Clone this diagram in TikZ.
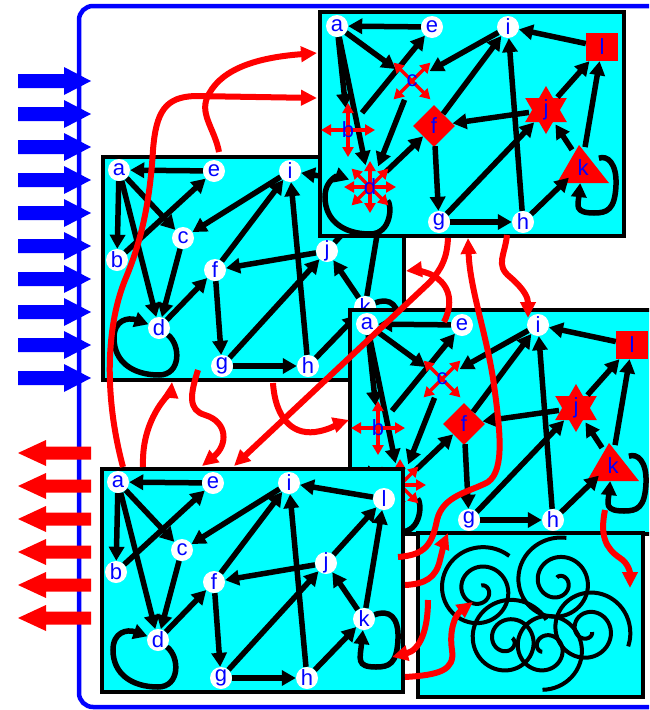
\documentclass[tikz,border=0pt]{standalone}
\usepackage{fontspec}
\setmainfont{Liberation Sans}
\usetikzlibrary{arrows.meta,shapes.geometric}
\definecolor{aqua}{RGB}{0,255,255}
\definecolor{pure red}{RGB}{255,0,0}
\definecolor{pure blue}{RGB}{0,0,255}

\tikzset{
  panelbox/.style={draw=black, fill=aqua, line width=4.5pt},
  gedge/.style={draw=black, line width=5.5pt, -{Triangle[length=14pt,width=15pt]}},
  vx/.style={circle, fill=white, inner sep=0pt, minimum size=22pt, text=pure blue, font=\fontsize{22}{22}\selectfont},
  ghost/.style={circle, inner sep=0pt},
  lbl/.style={inner sep=0pt, text=pure blue, font=\fontsize{22}{22}\selectfont},
  deco/.style={draw=pure red, line width=3.5pt, -{Triangle[length=10pt,width=11pt]}},
  link/.style={draw=pure red, line width=6pt, -{Triangle[length=16pt,width=15pt]}},
  spiral/.style={draw=black, line width=4pt},
}

\newcommand\dloopfor[1]{\draw[gedge] (#1d) .. controls (22,17) and (22,47) .. (0,47) .. controls (-26,47) and (-45,34) .. (-45,10) .. controls (-45,-8) and (-31,-11) .. (#1d);}
\newcommand\kloopfor[1]{\draw[gedge] (#1k) .. controls (25,-10) and (35,-2) .. (34,20) .. controls (33,45) and (25,48) .. (12,48) .. controls (-8,48) and (-4,40) .. (#1k);}

\newcommand\plainpanel[3]{%
\begin{scope}[shift={(#2,#3)}]
  \draw[panelbox] (0,0) rectangle (301,223);
  \foreach \nm/\px/\py in {a/16/13,e/111/14,i/187/14,l/282/30,c/80/81,b/14/103,f/112/113,j/224/94,d/56/171,k/262/150,g/119/209,h/205/209}
    {\node[vx] (#1\nm) at (\px,\py) {\nm};}
  \foreach \src/\dst in {e/a,a/b,a/d,a/c,b/e,c/d,i/c,f/i,d/f,j/f,f/g,g/j,g/h,h/i,h/k,k/j,k/l,j/l,l/i}
    {\draw[gedge] (#1\src) -- (#1\dst);}
  \begin{scope}[shift={(56,171)}]\dloopfor{#1}\end{scope}
  \begin{scope}[shift={(262,150)}]\kloopfor{#1}\end{scope}
\end{scope}}

\newcommand\fancypanel[3]{%
\begin{scope}[shift={(#2,#3)}]
  \draw[panelbox] (0,0) rectangle (304,224);
  \foreach \nm/\px/\py in {a/17/14,e/112/15,i/188/15,g/119/210,h/203/210}
    {\node[vx] (#1\nm) at (\px,\py) {\nm};}
  \node[lbl, fill=pure red, minimum width=32pt, minimum height=28pt] (#1l) at (282,35) {l};
  \node[lbl, diamond, fill=pure red, minimum size=42pt] (#1f) at (114,114) {f};
  \fill[pure red] (226,74) -- (205.2,110) -- (246.8,110) -- cycle;
  \fill[pure red] (226,122) -- (205.2,86) -- (246.8,86) -- cycle;
  \node[ghost, minimum size=34pt] (#1j) at (226,98) {};
  \fill[pure red] (259,133) -- (237,171) -- (289,171) -- cycle;
  \node[ghost, minimum size=36pt] (#1k) at (262,153) {};
  \node[ghost, minimum size=40pt] (#1c) at (92,69) {};
  \node[ghost, minimum size=44pt] (#1b) at (28,118) {};
  \node[ghost, minimum size=44pt] (#1d) at (50,175) {};
  \foreach \src/\dst in {e/a,a/b,a/d,a/c,b/e,c/d,i/c,f/i,d/f,j/f,f/g,g/j,g/h,h/i,h/k,k/j,k/l,j/l,l/i}
    {\draw[gedge] (#1\src) -- (#1\dst);}
  \begin{scope}[shift={(50,175)}]\dloopfor{#1}\end{scope}
  \begin{scope}[shift={(262,153)}]\kloopfor{#1}\end{scope}
  \foreach \ang in {45,135,225,315} {\draw[deco] (#1c.center) -- ++(\ang:26);}
  \foreach \ang in {0,90,180,270} {\draw[deco] (#1b.center) -- ++(\ang:27);}
  \foreach \ang in {0,45,...,315} {\draw[deco] (#1d.center) -- ++(\ang:26);}
  \node[lbl] (#1ct) at (#1c) {c};
  \node[lbl] (#1bt) at (#1b) {b};
  \node[lbl] (#1dt) at (#1d) {d};
  \node[lbl] (#1jt) at (#1j) {j};
  \node[lbl] (#1kt) at (263,156) {k};
\end{scope}}

\begin{document}
\begin{tikzpicture}[x=1pt,y=-1pt]
\useasboundingbox (0,0) rectangle (649,710);
\clip (0,0) rectangle (649,710);
\fill[white] (0,0) rectangle (649,710);

% outer frame
\draw[pure blue, line width=4.5pt, rounded corners=14pt] (720,707) -- (79,707) -- (79,6) -- (720,6);

% inputs and outputs
\foreach \yy in {81,114,...,378}
  {\fill[pure blue] (18,\yy-7) -- (64,\yy-7) -- (64,\yy-14) -- (91,\yy) -- (64,\yy+14) -- (64,\yy+7) -- (18,\yy+7) -- cycle;}
\foreach \yy in {453,486,...,618}
  {\fill[pure red] (91,\yy-6.5) -- (46,\yy-6.5) -- (46,\yy-13) -- (18,\yy) -- (46,\yy+13) -- (46,\yy+6.5) -- (91,\yy+6.5) -- cycle;}

% panels
\plainpanel{B}{103}{157}
\fancypanel{A}{320}{12}
\fancypanel{C}{350}{310}
\plainpanel{D}{102}{469}

% spiral panel
\draw[panelbox] (418,533) rectangle (643,697);
\begin{scope}
\clip (420,535) rectangle (641,695);
\draw[spiral] plot[domain=1.5:14.5, samples=120, smooth, variable=\t] ({480+3.1*\t*cos(deg(\t)+200)}, {590+3.1*\t*sin(deg(\t)+200)});
\draw[spiral] plot[domain=1.5:14.5, samples=120, smooth, variable=\t] ({558+3.1*\t*cos(deg(\t)+170)}, {582+3.1*\t*sin(deg(\t)+170)});
\draw[spiral] plot[domain=1.5:14, samples=120, smooth, variable=\t] ({508+3.1*\t*cos(deg(\t)+250)}, {640+3.1*\t*sin(deg(\t)+250)});
\draw[spiral] plot[domain=1.5:14, samples=120, smooth, variable=\t] ({588+3.1*\t*cos(deg(\t)+300)}, {630+3.1*\t*sin(deg(\t)+300)});
\draw[spiral] plot[domain=1.5:13.5, samples=120, smooth, variable=\t] ({545+3.1*\t*cos(deg(\t)+40)}, {648+3.1*\t*sin(deg(\t)+40)});
\end{scope}

% red links between panels
\coordinate (l1s) at (219,152); \coordinate (l1e) at (317,53);
\coordinate (l2s) at (123,467); \coordinate (l2e) at (317,98);
\coordinate (l3s) at (143,467); \coordinate (l3e) at (172,382);
\coordinate (l4s) at (198,370); \coordinate (l4e) at (202,466);
\coordinate (l5s) at (273,383); \coordinate (l5e) at (349,420);
\coordinate (l6s) at (448,238); \coordinate (l6e) at (234,466);
\coordinate (l7s) at (444,322); \coordinate (l7e) at (406,271);
\coordinate (l8s) at (398,557); \coordinate (l8e) at (468,238);
\coordinate (l9s) at (507,235); \coordinate (l9e) at (528,318);
\coordinate (l10s) at (405,585); \coordinate (l10e) at (448,533);
\coordinate (l11s) at (428,600); \coordinate (l11e) at (392,657);
\coordinate (l12s) at (405,677); \coordinate (l12e) at (473,602);
\coordinate (l13s) at (605,510); \coordinate (l13e) at (630,588);

\draw[link] (l1s) .. controls (215,130) and (200,115) .. (207,98) .. controls (218,72) and (250,58) .. (l1e);
\draw[link] (l2s) .. controls (105,400) and (105,330) .. (125,280) .. controls (142,240) and (150,200) .. (153,150) .. controls (156,112) and (165,97) .. (195,96) -- (l2e);
\draw[link] (l3s) .. controls (142,440) and (150,420) .. (160,405) .. controls (167,395) and (171,392) .. (l3e);
\draw[link] (l4s) .. controls (190,395) and (188,410) .. (205,415) .. controls (228,422) and (228,445) .. (l4e);
\draw[link] (l5s) .. controls (275,415) and (290,435) .. (315,432) .. controls (330,430) and (340,423) .. (l5e);
\draw[link] (l6s) .. controls (447,258) and (442,268) .. (430,282) -- (l6e);
\draw[link] (l7s) .. controls (455,300) and (448,282) .. (430,274) .. controls (422,271) and (415,270) .. (l7e);
\draw[link] (l8s) .. controls (425,555) and (432,545) .. (437,520) .. controls (443,495) and (470,492) .. (488,482) .. controls (505,470) and (500,430) .. (494,385) .. controls (487,335) and (470,290) .. (l8e);
\draw[link] (l9s) .. controls (505,255) and (495,265) .. (510,277) .. controls (525,290) and (528,298) .. (l9e);
\draw[link] (l10s) .. controls (425,584) and (436,578) .. (440,560) .. controls (443,548) and (445,540) .. (l10e);
\draw[link] (l11s) .. controls (428,630) and (420,650) .. (l11e);
\draw[link] (l12s) .. controls (440,675) and (455,670) .. (452,650) .. controls (449,630) and (455,615) .. (l12e);
\draw[link] (l13s) .. controls (600,535) and (605,548) .. (620,558) .. controls (628,563) and (630,572) .. (l13e);
\end{tikzpicture}
\end{document}
